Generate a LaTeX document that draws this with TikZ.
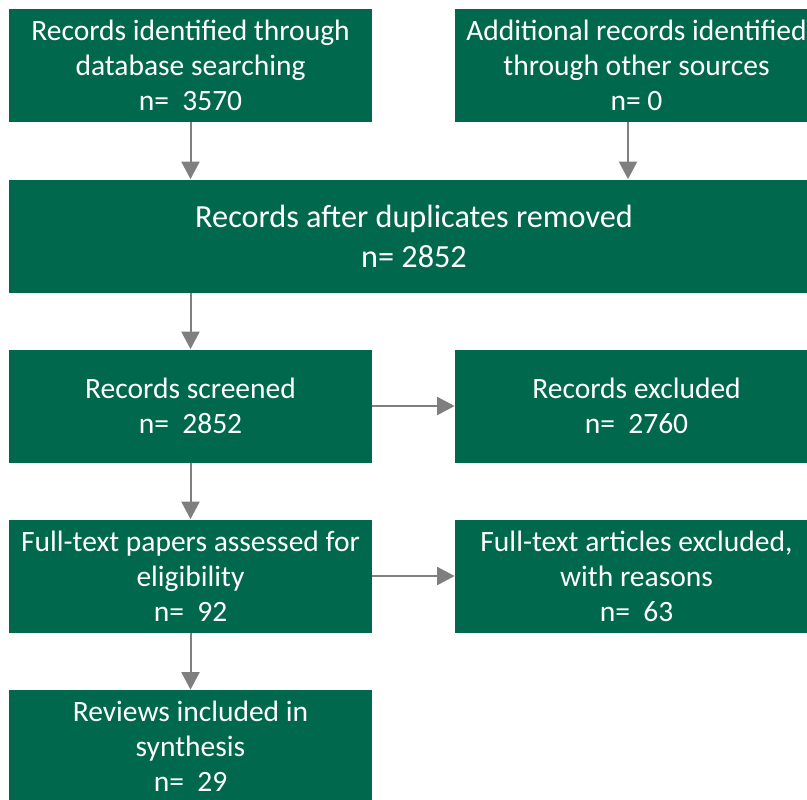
\documentclass[tikz,border=0pt]{standalone}
\usepackage{fontspec}
\setmainfont{Carlito}
\usetikzlibrary{arrows.meta}

\definecolor{prismagreen}{HTML}{00684D}
\definecolor{arrowgray}{HTML}{7F7F7F}

\tikzset{
    stagebox/.style={fill=prismagreen, draw=none, text=white, align=center,
        minimum width=363*0.02cm, minimum height=113*0.02cm, inner sep=0pt,
        font=\fontsize{16.8}{19.9}\selectfont},
    widebox/.style={stagebox, minimum width=810*0.02cm,
        font=\fontsize{18.35}{22.8}\selectfont},
    flowarrow/.style={draw=arrowgray, line width=0.04cm,
        -{Triangle[length=0.35cm, width=0.36cm]}}
}

\begin{document}
\begin{tikzpicture}[x=0.02cm, y=-0.02cm]
        \useasboundingbox (0,0) rectangle (807,799);

        % identification
        \node[stagebox] (dbsearch) at (190.5, 65.5) {Records identified through\\database searching\\n=\ \ 3570};
        \node[stagebox] (othersrc) at (636.5, 65.5) {Additional records identified\\through other sources\\n= 0};

        % screening
        \node[widebox] (dedup) at (414, 236) {Records after duplicates removed\\n= 2852};
        \node[stagebox] (screened) at (190.5, 406) {Records screened\\n=\ \ 2852};
        \node[stagebox] (excluded) at (636.5, 406) {Records excluded\\n=\ \ 2760};

        % eligibility
        \node[stagebox] (fulltext) at (190.5, 576) {Full-text papers assessed for\\eligibility\\n=\ \ 92};
        \node[stagebox] (ftexcl) at (636.5, 576) {Full-text articles excluded,\\with reasons\\n=\ \ 63};

        % included
        \node[stagebox] (included) at (190.5, 746.5) {Reviews included in\\synthesis\\n=\ \ 29};

        \draw[flowarrow] (dbsearch.south) -- (dbsearch.south |- dedup.north);
        \draw[flowarrow] ([xshift=-8.5*0.02cm]othersrc.south) -- ([xshift=-8.5*0.02cm]othersrc.south |- dedup.north);
        \draw[flowarrow] (dbsearch.south |- dedup.south) -- (screened.north);
        \draw[flowarrow] (screened.east) -- (excluded.west);
        \draw[flowarrow] (screened.south) -- (fulltext.north);
        \draw[flowarrow] (fulltext.east) -- (ftexcl.west);
        \draw[flowarrow] (fulltext.south) -- (included.north);

    \end{tikzpicture}
\end{document}
